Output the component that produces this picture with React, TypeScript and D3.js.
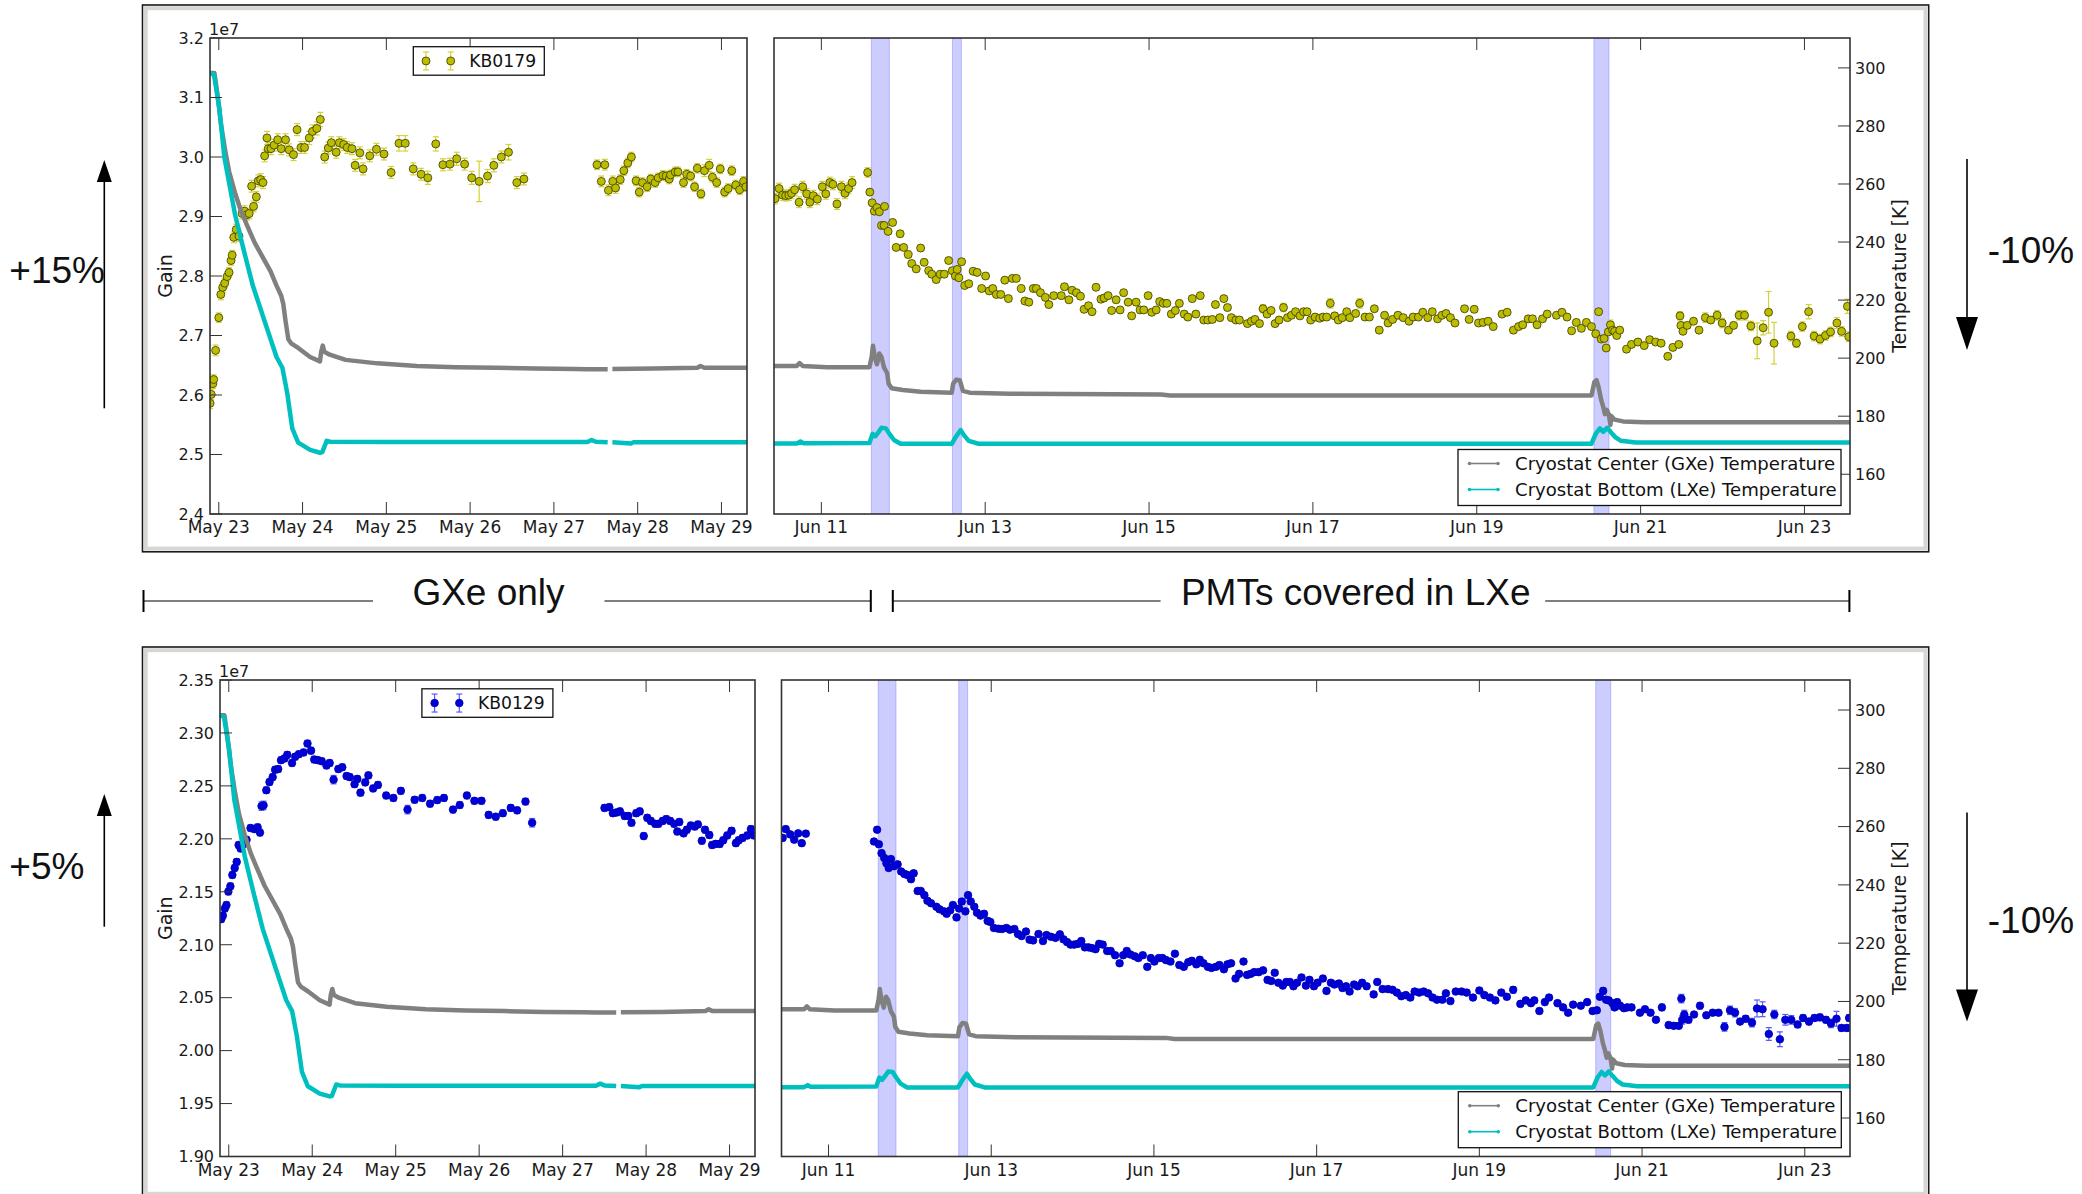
import React, { useEffect } from "react";
import * as d3 from "d3";

// ---------------- tick values ----------------
const mayTicks = [23, 24, 25, 26, 27, 28, 29];
const junTicks = [11, 13, 15, 17, 19, 21, 23];
const gainTicksTop = [2.4, 2.5, 2.6, 2.7, 2.8, 2.9, 3.0, 3.1, 3.2];
const gainTicksBottom = [1.9, 1.95, 2.0, 2.05, 2.1, 2.15, 2.2, 2.25, 2.3, 2.35];
const tempTicks = [160, 180, 200, 220, 240, 260, 280, 300];

// time windows (day of month)
const mayDomain = [22.895, 29.305];
const junDomain = [10.422, 23.556];

// shaded intervals (June)
const bands = [
  [11.61, 11.83],
  [12.6, 12.71],
  [20.43, 20.615],
];

// ---------------- KB0179 gain [day, gain/1e7, err] ----------------
const kb0179May = [
  [22.896, 2.586, 0.009], [22.91, 2.601, 0.009], [22.929, 2.619, 0.008], [22.939, 2.626, 0.008], [22.962, 2.675, 0.009],
  [23.0, 2.73, 0.008], [23.024, 2.769, 0.009], [23.047, 2.781, 0.008], [23.071, 2.788, 0.008], [23.099, 2.799, 0.008],
  [23.123, 2.806, 0.008], [23.146, 2.826, 0.008], [23.16, 2.835, 0.008], [23.179, 2.865, 0.009], [23.208, 2.878, 0.009],
  [23.241, 2.867, 0.009], [23.278, 2.905, 0.009], [23.307, 2.909, 0.009], [23.335, 2.903, 0.009], [23.363, 2.905, 0.009],
  [23.392, 2.951, 0.01], [23.415, 2.917, 0.009], [23.448, 2.933, 0.009], [23.472, 2.96, 0.01], [23.5, 2.962, 0.01],
  [23.528, 2.957, 0.01], [23.547, 3.002, 0.01], [23.575, 3.032, 0.011], [23.59, 3.014, 0.01], [23.623, 3.014, 0.01],
  [23.66, 3.02, 0.01], [23.703, 3.029, 0.01], [23.745, 3.014, 0.01], [23.797, 3.029, 0.01], [23.84, 3.012, 0.01],
  [23.892, 3.004, 0.01], [23.934, 3.046, 0.01], [23.981, 3.016, 0.01], [24.024, 3.016, 0.01], [24.08, 3.032, 0.011],
  [24.118, 3.043, 0.011], [24.17, 3.048, 0.011], [24.212, 3.063, 0.012], [24.264, 3.0, 0.01], [24.307, 3.015, 0.01],
  [24.344, 3.024, 0.01], [24.401, 3.008, 0.01], [24.439, 3.024, 0.01], [24.491, 3.021, 0.01], [24.533, 3.016, 0.01],
  [24.59, 3.014, 0.01], [24.627, 2.986, 0.01], [24.684, 3.007, 0.01], [24.722, 2.98, 0.01], [24.802, 3.002, 0.01],
  [24.882, 3.013, 0.01], [24.972, 3.005, 0.01], [25.057, 2.974, 0.01], [25.151, 3.023, 0.013], [25.226, 3.023, 0.013],
  [25.321, 2.98, 0.01], [25.415, 2.971, 0.01], [25.495, 2.965, 0.011], [25.59, 3.022, 0.012], [25.675, 2.987, 0.01],
  [25.759, 2.988, 0.01], [25.84, 2.997, 0.011], [25.934, 2.988, 0.01], [26.019, 2.965, 0.011], [26.108, 2.959, 0.034],
  [26.208, 2.968, 0.011], [26.283, 2.986, 0.011], [26.373, 3.0, 0.01], [26.458, 3.008, 0.013], [26.557, 2.957, 0.01],
  [26.642, 2.963, 0.01],
  [27.514, 2.987, 0.008], [27.566, 2.959, 0.009], [27.608, 2.987, 0.009], [27.651, 2.944, 0.009], [27.703, 2.959, 0.009],
  [27.736, 2.948, 0.009], [27.792, 2.962, 0.008], [27.835, 2.977, 0.008], [27.882, 2.99, 0.008], [27.925, 3.0, 0.008],
  [27.981, 2.96, 0.008], [28.019, 2.941, 0.008], [28.057, 2.957, 0.008], [28.113, 2.95, 0.008], [28.156, 2.963, 0.008],
  [28.208, 2.957, 0.008], [28.245, 2.965, 0.008], [28.302, 2.969, 0.008], [28.34, 2.968, 0.008], [28.377, 2.963, 0.008],
  [28.392, 2.97, 0.008], [28.448, 2.975, 0.008], [28.481, 2.975, 0.008], [28.547, 2.957, 0.008], [28.585, 2.971, 0.008],
  [28.632, 2.968, 0.008], [28.679, 2.95, 0.008], [28.712, 2.981, 0.008], [28.755, 2.938, 0.008], [28.797, 2.977, 0.01],
  [28.854, 2.986, 0.01], [28.892, 2.966, 0.008], [28.943, 2.957, 0.008], [28.986, 2.98, 0.008], [29.038, 2.941, 0.008],
  [29.08, 2.947, 0.008], [29.123, 2.977, 0.008], [29.17, 2.953, 0.008], [29.217, 2.945, 0.008], [29.264, 2.959, 0.008],
  [29.292, 2.95, 0.008],
];

const kb0179JunErr = 0.005;
const kb0179Jun = [
  [10.435, 2.93, 0.009], [10.484, 2.947, 0.009], [10.527, 2.936, 0.009], [10.565, 2.935, 0.009], [10.603, 2.936, 0.009],
  [10.636, 2.939, 0.009], [10.674, 2.945, 0.009], [10.728, 2.924, 0.009], [10.772, 2.95, 0.009], [10.821, 2.938, 0.009],
  [10.859, 2.924, 0.009], [10.902, 2.935, 0.009], [10.951, 2.929, 0.009], [11.011, 2.95, 0.009], [11.054, 2.938, 0.009],
  [11.103, 2.957, 0.009], [11.141, 2.954, 0.009], [11.19, 2.921, 0.009], [11.245, 2.95, 0.009], [11.288, 2.939, 0.009],
  [11.332, 2.947, 0.009], [11.375, 2.957, 0.01], [11.565, 2.974, 0.008], [11.592, 2.941], [11.62, 2.923],
  [11.647, 2.909], [11.679, 2.915], [11.707, 2.908], [11.734, 2.885], [11.766, 2.885], [11.772, 2.917],
  [11.815, 2.875], [11.87, 2.89], [11.913, 2.848], [11.962, 2.871], [12.005, 2.848], [12.06, 2.836],
  [12.103, 2.821], [12.158, 2.812], [12.212, 2.847], [12.255, 2.823], [12.31, 2.809], [12.348, 2.803],
  [12.402, 2.794], [12.451, 2.803], [12.5, 2.803], [12.554, 2.826], [12.598, 2.809], [12.636, 2.8],
  [12.658, 2.811], [12.679, 2.797], [12.712, 2.824], [12.75, 2.784], [12.799, 2.787], [12.853, 2.808],
  [12.902, 2.806], [12.957, 2.779], [13.005, 2.8], [13.049, 2.775], [13.092, 2.779], [13.136, 2.769],
  [13.19, 2.769], [13.239, 2.793], [13.283, 2.762], [13.332, 2.796], [13.38, 2.796], [13.44, 2.779],
  [13.484, 2.758], [13.533, 2.756], [13.587, 2.779], [13.625, 2.779], [13.674, 2.772], [13.734, 2.764],
  [13.777, 2.752], [13.837, 2.767], [13.929, 2.767], [13.967, 2.782], [14.022, 2.76], [14.06, 2.776],
  [14.114, 2.772], [14.163, 2.766], [14.207, 2.744], [14.261, 2.75], [14.304, 2.74], [14.353, 2.781],
  [14.413, 2.761], [14.451, 2.763], [14.5, 2.767], [14.543, 2.742], [14.598, 2.76], [14.647, 2.743],
  [14.69, 2.772], [14.745, 2.756], [14.788, 2.733], [14.842, 2.756], [14.891, 2.743], [14.935, 2.743],
  [14.989, 2.767], [15.033, 2.739], [15.087, 2.743], [15.13, 2.757], [15.174, 2.754], [15.217, 2.754],
  [15.272, 2.736], [15.321, 2.742], [15.37, 2.754], [15.429, 2.736], [15.473, 2.731], [15.527, 2.762],
  [15.571, 2.736], [15.625, 2.767], [15.668, 2.726], [15.717, 2.726], [15.772, 2.727], [15.81, 2.752],
  [15.864, 2.73], [15.913, 2.762], [15.957, 2.747], [16.005, 2.73], [16.06, 2.726], [16.103, 2.726],
  [16.201, 2.72], [16.25, 2.724], [16.293, 2.727], [16.348, 2.72], [16.391, 2.745, 0.007], [16.44, 2.736],
  [16.489, 2.742], [16.538, 2.72], [16.587, 2.726], [16.641, 2.747, 0.007], [16.69, 2.73], [16.739, 2.734],
  [16.788, 2.74], [16.842, 2.733], [16.886, 2.74], [16.929, 2.74], [16.973, 2.726], [17.027, 2.731],
  [17.082, 2.729], [17.125, 2.731], [17.168, 2.731], [17.212, 2.754, 0.008], [17.266, 2.733], [17.31, 2.726],
  [17.359, 2.73], [17.413, 2.74], [17.451, 2.73], [17.522, 2.737], [17.571, 2.754, 0.008], [17.636, 2.731],
  [17.69, 2.731], [17.75, 2.745], [17.81, 2.709], [17.875, 2.734], [17.918, 2.721], [17.973, 2.727],
  [18.038, 2.734], [18.103, 2.73], [18.174, 2.724], [18.223, 2.731], [18.288, 2.731], [18.342, 2.739],
  [18.402, 2.73], [18.457, 2.74], [18.522, 2.728], [18.576, 2.734], [18.625, 2.737], [18.679, 2.73],
  [18.734, 2.721], [18.851, 2.745], [18.907, 2.727], [18.969, 2.744], [19.021, 2.721], [19.077, 2.722],
  [19.139, 2.724], [19.201, 2.715], [19.309, 2.736], [19.371, 2.739], [19.448, 2.709], [19.51, 2.715],
  [19.561, 2.718], [19.628, 2.728], [19.68, 2.728], [19.736, 2.718], [19.803, 2.728], [19.86, 2.736],
  [19.973, 2.734], [20.04, 2.739], [20.102, 2.731], [20.158, 2.708], [20.215, 2.722], [20.277, 2.712],
  [20.338, 2.722], [20.4, 2.715], [20.452, 2.703], [20.488, 2.74], [20.519, 2.694], [20.555, 2.695],
  [20.58, 2.679], [20.606, 2.706], [20.632, 2.718, 0.008], [20.658, 2.709], [20.683, 2.707], [20.709, 2.7],
  [20.745, 2.709], [20.828, 2.677], [20.889, 2.685], [20.967, 2.689], [21.044, 2.683], [21.111, 2.693],
  [21.183, 2.689], [21.25, 2.687], [21.332, 2.665], [21.394, 2.68], [21.466, 2.685], [21.481, 2.733, 0.007],
  [21.492, 2.717], [21.517, 2.707], [21.569, 2.717], [21.646, 2.724], [21.713, 2.709], [21.79, 2.73, 0.008],
  [21.857, 2.726], [21.934, 2.734, 0.008], [21.996, 2.721, 0.008], [22.073, 2.709], [22.135, 2.717],
  [22.202, 2.734, 0.008], [22.269, 2.734, 0.008], [22.346, 2.716, 0.008], [22.423, 2.691, 0.03], [22.496, 2.713, 0.012],
  [22.562, 2.739, 0.035], [22.629, 2.687, 0.035], [22.835, 2.699, 0.008], [22.902, 2.687, 0.007], [22.974, 2.715, 0.008],
  [23.051, 2.74, 0.012], [23.118, 2.699, 0.008], [23.19, 2.694, 0.008], [23.257, 2.7, 0.008], [23.319, 2.706, 0.008],
  [23.396, 2.721, 0.009], [23.453, 2.707, 0.008], [23.525, 2.749, 0.012], [23.541, 2.698, 0.008],
];

// ---------------- KB0129 gain [day, gain/1e7, err] ----------------
const kb0129MayErr = 0.003;
const kb0129May = [
  [22.91, 2.1242], [22.929, 2.1275], [22.953, 2.1342], [22.972, 2.1375], [22.995, 2.1502],
  [23.019, 2.1552], [23.043, 2.1659], [23.071, 2.1725], [23.095, 2.1782], [23.118, 2.1942],
  [23.142, 2.1909], [23.175, 2.1949], [23.213, 2.1992], [23.261, 2.2102], [23.308, 2.2092],
  [23.346, 2.2109], [23.374, 2.2059], [23.393, 2.2309, 0.004], [23.417, 2.2316, 0.004], [23.45, 2.2459],
  [23.488, 2.2536], [23.526, 2.2583], [23.555, 2.2653], [23.592, 2.2659], [23.626, 2.2743],
  [23.668, 2.2759], [23.701, 2.2793], [23.758, 2.2716], [23.796, 2.2776], [23.839, 2.2799],
  [23.896, 2.2816], [23.943, 2.29], [23.986, 2.2833], [24.024, 2.2749], [24.066, 2.2743],
  [24.114, 2.2733], [24.171, 2.2693], [24.209, 2.2716], [24.256, 2.2559, 0.004], [24.313, 2.2659],
  [24.36, 2.2676], [24.412, 2.2593], [24.45, 2.2583], [24.507, 2.2516], [24.54, 2.2566],
  [24.578, 2.2436], [24.635, 2.2533], [24.673, 2.2599], [24.73, 2.2476], [24.787, 2.2509],
  [24.886, 2.2409], [24.972, 2.2386], [25.062, 2.2453], [25.142, 2.2276, 0.004], [25.227, 2.2369],
  [25.318, 2.2386], [25.412, 2.2332], [25.498, 2.2366], [25.578, 2.2386], [25.687, 2.2276],
  [25.768, 2.2319], [25.853, 2.2409], [25.943, 2.2359], [26.028, 2.2359], [26.114, 2.2226],
  [26.199, 2.2209], [26.284, 2.2242], [26.379, 2.2292], [26.455, 2.2269], [26.555, 2.2352],
  [26.635, 2.2152, 0.004],
  [27.502, 2.2292], [27.559, 2.2299], [27.602, 2.2242], [27.645, 2.2249], [27.687, 2.2259],
  [27.744, 2.2216], [27.787, 2.2216], [27.825, 2.2152], [27.882, 2.2242], [27.924, 2.2259],
  [27.972, 2.2026], [28.014, 2.2199], [28.057, 2.2169], [28.109, 2.2142], [28.147, 2.2142],
  [28.199, 2.2169], [28.242, 2.2186], [28.289, 2.2169], [28.336, 2.2142], [28.374, 2.2069],
  [28.398, 2.2159], [28.45, 2.2052], [28.488, 2.2086], [28.536, 2.2126], [28.583, 2.2116],
  [28.621, 2.2136], [28.668, 2.1982], [28.706, 2.2086], [28.758, 2.2036], [28.791, 2.1942],
  [28.834, 2.1952], [28.882, 2.1952], [28.924, 2.1986], [28.972, 2.2032], [29.024, 2.2076],
  [29.076, 2.1959], [29.109, 2.1986], [29.156, 2.2009], [29.213, 2.2032], [29.256, 2.2092],
  [29.294, 2.2032],
];

const kb0129JunErr = 0.0025;
const kb0129Jun = [
  [10.436, 2.2009], [10.474, 2.2092], [10.529, 2.2042], [10.578, 2.1992], [10.627, 2.2052], [10.671, 2.1959], [10.721, 2.2049],
  [11.559, 2.1975], [11.597, 2.2086], [11.619, 2.1949], [11.652, 2.1865], [11.685, 2.1819], [11.712, 2.1769], [11.74, 2.1725],
  [11.767, 2.1809], [11.805, 2.1742], [11.849, 2.1759], [11.893, 2.1692], [11.932, 2.1669], [11.97, 2.1659], [12.014, 2.1619],
  [12.047, 2.1675], [12.096, 2.1508], [12.134, 2.1508], [12.178, 2.1468], [12.216, 2.1415], [12.26, 2.1392], [12.326, 2.1358],
  [12.364, 2.1335], [12.419, 2.1315], [12.452, 2.1292], [12.496, 2.1325], [12.529, 2.1375], [12.573, 2.1258], [12.605, 2.1342],
  [12.638, 2.1408], [12.682, 2.1315], [12.715, 2.1468], [12.748, 2.1408], [12.792, 2.1358], [12.825, 2.1302], [12.868, 2.1275],
  [12.912, 2.1292], [12.956, 2.1225], [12.989, 2.1215], [13.033, 2.1158], [13.088, 2.1151], [13.132, 2.1148], [13.186, 2.1158],
  [13.23, 2.1142], [13.285, 2.1148], [13.329, 2.1101], [13.373, 2.1082], [13.427, 2.1125], [13.471, 2.1048], [13.515, 2.1041],
  [13.581, 2.1101], [13.636, 2.1035], [13.679, 2.1091], [13.734, 2.1075], [13.789, 2.1065], [13.844, 2.1098], [13.888, 2.1051],
  [13.932, 2.1025], [13.975, 2.1001], [14.019, 2.1001], [14.063, 2.1008], [14.107, 2.1035], [14.151, 2.0975], [14.195, 2.0975],
  [14.238, 2.0968], [14.282, 2.0958], [14.326, 2.1008], [14.37, 2.1001], [14.425, 2.0941], [14.468, 2.0941], [14.523, 2.0901],
  [14.578, 2.0825], [14.622, 2.0901], [14.666, 2.0941], [14.71, 2.0908], [14.764, 2.0891], [14.808, 2.0874], [14.863, 2.0901],
  [14.918, 2.0791], [14.962, 2.0874], [15.005, 2.0841], [15.06, 2.0874], [15.104, 2.0874], [15.148, 2.0855], [15.203, 2.0841],
  [15.258, 2.0915], [15.312, 2.0808], [15.367, 2.0791], [15.422, 2.0835], [15.466, 2.0848], [15.521, 2.0815], [15.564, 2.0858],
  [15.608, 2.0825], [15.663, 2.0791], [15.707, 2.0781], [15.762, 2.0791], [15.805, 2.0808], [15.86, 2.0768], [15.904, 2.0815],
  [15.948, 2.0825], [16.003, 2.0681], [16.047, 2.0725], [16.101, 2.0841], [16.145, 2.0715], [16.189, 2.0725], [16.233, 2.0741],
  [16.288, 2.0741], [16.342, 2.0758], [16.397, 2.0668], [16.441, 2.0658], [16.485, 2.0735], [16.529, 2.0641], [16.584, 2.0614],
  [16.627, 2.0648], [16.671, 2.0648], [16.715, 2.0608], [16.759, 2.0641], [16.814, 2.0691], [16.868, 2.0614], [16.912, 2.0668],
  [16.967, 2.0608], [17.011, 2.0641], [17.077, 2.0681], [17.121, 2.0564], [17.175, 2.0641], [17.219, 2.0624], [17.274, 2.0634],
  [17.318, 2.0591], [17.362, 2.0608], [17.405, 2.0558], [17.46, 2.0624], [17.504, 2.0608], [17.559, 2.0641], [17.614, 2.0608],
  [17.701, 2.0531], [17.745, 2.0648], [17.811, 2.0581], [17.877, 2.0581], [17.932, 2.0574], [17.986, 2.0548], [18.041, 2.0514],
  [18.096, 2.0524], [18.151, 2.0501], [18.205, 2.0558], [18.26, 2.0548], [18.315, 2.0558], [18.37, 2.0541], [18.425, 2.0501],
  [18.479, 2.0481], [18.545, 2.0481], [18.589, 2.0541], [18.644, 2.0468], [18.71, 2.0558], [18.782, 2.0558], [18.844, 2.0548],
  [18.922, 2.0501], [19.0, 2.0568], [19.062, 2.0524], [19.13, 2.0501], [19.197, 2.0474], [19.27, 2.0548], [19.338, 2.0508],
  [19.416, 2.0574, 0.003], [19.504, 2.0441], [19.571, 2.0474], [19.634, 2.0448], [19.675, 2.0474], [19.738, 2.0374], [19.805, 2.0458],
  [19.857, 2.0501], [19.961, 2.0448], [20.029, 2.0408], [20.091, 2.0358], [20.153, 2.0434], [20.247, 2.0424], [20.325, 2.0458],
  [20.392, 2.0374], [20.444, 2.0381], [20.481, 2.0508], [20.522, 2.0564, 0.003], [20.558, 2.0481], [20.59, 2.0474], [20.636, 2.0448],
  [20.662, 2.0408], [20.694, 2.0458], [20.73, 2.0424], [20.777, 2.0401], [20.818, 2.0408], [20.87, 2.0408], [20.974, 2.0358],
  [21.036, 2.0391], [21.104, 2.0358], [21.171, 2.0291], [21.244, 2.0408, 0.003], [21.327, 2.0241], [21.39, 2.0234], [21.452, 2.0234],
  [21.483, 2.0491, 0.004], [21.494, 2.0291, 0.004], [21.519, 2.0341, 0.004], [21.571, 2.0291, 0.003], [21.639, 2.0341], [21.712, 2.0424, 0.003],
  [21.79, 2.0334], [21.868, 2.0358], [21.94, 2.0358], [22.013, 2.0224, 0.004], [22.081, 2.0381, 0.004], [22.143, 2.0358, 0.004],
  [22.205, 2.0274], [22.273, 2.0301, 0.003], [22.351, 2.0264, 0.004], [22.413, 2.0398, 0.008], [22.481, 2.0391, 0.007],
  [22.558, 2.0157, 0.006], [22.626, 2.0341, 0.004], [22.694, 2.0107, 0.007], [22.761, 2.0291, 0.005], [22.834, 2.0291, 0.004],
  [22.912, 2.0247, 0.003], [22.979, 2.0308, 0.003], [23.052, 2.0274, 0.003], [23.119, 2.0308, 0.003], [23.187, 2.0314, 0.003],
  [23.26, 2.0291, 0.003], [23.322, 2.0257, 0.004], [23.39, 2.0301, 0.007], [23.452, 2.0214, 0.003], [23.519, 2.0214, 0.003],
  [23.545, 2.0308, 0.003],
];

// ---------------- cryostat temperatures [day, K] (null = no data) ----------------
const centerTempMay = [
  [22.896, 298.2], [22.948, 298.2], [22.981, 291.4], [23.028, 280.3], [23.075, 271.7], [23.123, 264.3],
  [23.193, 257.0], [23.264, 250.8], [23.335, 245.9], [23.429, 239.7], [23.524, 234.8], [23.618, 229.9],
  [23.689, 225.0], [23.745, 221.5], [23.769, 218.8], [23.797, 212.7], [23.83, 206.5], [23.863, 205.1],
  [23.948, 203.5], [24.09, 200.4], [24.208, 198.9], [24.222, 202.2], [24.241, 204.3], [24.259, 202.2],
  [24.325, 201.2], [24.514, 199.4], [24.892, 198.2], [25.363, 197.3], [25.835, 196.9], [26.307, 196.7],
  [26.778, 196.4], [27.25, 196.3], [27.392, 196.2], [27.642, 196.2], [27.67, null], [27.698, 196.3],
  [28.193, 196.4], [28.712, 196.7], [28.75, 197.3], [28.797, 196.7], [29.307, 196.7],
];
const bottomTempMay = [
  [22.896, 298.2], [22.943, 297.6], [23.005, 286.5], [23.066, 269.3], [23.193, 249.6], [23.297, 237.3],
  [23.406, 225.0], [23.547, 212.7], [23.689, 200.4], [23.759, 196.7], [23.816, 188.1], [23.877, 175.8],
  [23.948, 170.9], [24.09, 168.4], [24.208, 167.4], [24.235, 167.6], [24.288, 171.5], [24.33, 171.2],
  [25.0, 171.1], [27.4, 171.1], [27.45, 171.8], [27.5, 171.2], [27.642, 171.0], [27.67, null],
  [27.698, 171.0], [27.92, 170.6], [27.95, 171.0], [29.307, 171.0],
];
const centerTempJun = [
  [10.422, 197.3], [10.7, 197.3], [10.734, 198.3], [10.772, 197.3], [11.071, 196.9], [11.587, 196.9],
  [11.614, 200.4], [11.63, 204.3], [11.652, 200.4], [11.679, 197.9], [11.707, 201.6], [11.734, 200.4],
  [11.766, 196.7], [11.804, 194.8], [11.821, 191.2], [11.859, 189.6], [11.995, 189.0], [12.212, 188.4],
  [12.592, 188.1], [12.609, 191.2], [12.647, 192.6], [12.69, 192.4], [12.728, 188.7], [12.81, 188.1],
  [13.299, 187.7], [15.147, 187.5], [15.255, 187.1], [20.4, 187.1], [20.436, 191.8], [20.462, 192.4],
  [20.488, 189.9], [20.519, 185.6], [20.544, 183.2], [20.565, 180.7], [20.586, 182.2], [20.611, 180.7],
  [20.632, 177.0], [20.642, 180.1], [20.683, 178.8], [20.786, 178.2], [21.044, 177.9], [23.556, 177.9],
];
const bottomTempJun = [
  [10.422, 170.6], [10.7, 170.6], [10.745, 171.3], [10.78, 170.7], [11.587, 170.8], [11.625, 173.9],
  [11.658, 173.1], [11.701, 174.6], [11.734, 176.0], [11.788, 175.8], [11.832, 173.9], [11.886, 171.8],
  [11.967, 170.5], [12.592, 170.5], [12.647, 173.1], [12.701, 175.2], [12.745, 173.3], [12.799, 171.5],
  [12.918, 170.5], [20.4, 170.5], [20.452, 173.9], [20.503, 175.8], [20.544, 174.6], [20.591, 176.0],
  [20.642, 174.3], [20.694, 172.7], [20.761, 171.5], [20.941, 170.9], [23.556, 170.9],
];

// ---------------- styling ----------------
const AX_FONT = "'DejaVu Sans', Verdana, sans-serif";
const NOTE_FONT = "'Liberation Sans', Arial, sans-serif";
const GREY = "#808080";
const CYAN = "#00bfbf";
const BAND = "rgba(0,0,255,0.2)";

const yellowStyle = { fill: "#bcbc00", stroke: "#3a3a00", err: "#d2d23a", r: 4 };
const blueStyle = { fill: "#0000d8", stroke: "#0000b0", err: "#5a5aff", r: 3.8 };

type Box = { x: number; y: number; w: number; h: number };

function Points({ data, x, y, st, defErr }) {
  return (
    <g>
      {data.map((d, i) => {
        const e = d.length > 2 ? d[2] : defErr;
        const cx = x(d[0]);
        return (
          <g key={"e" + i} stroke={st.err} strokeWidth={1.2}>
            <line x1={cx} x2={cx} y1={y(d[1] - e)} y2={y(d[1] + e)} />
            <line x1={cx - 3} x2={cx + 3} y1={y(d[1] - e)} y2={y(d[1] - e)} />
            <line x1={cx - 3} x2={cx + 3} y1={y(d[1] + e)} y2={y(d[1] + e)} />
          </g>
        );
      })}
      {data.map((d, i) => (
        <circle key={"p" + i} cx={x(d[0])} cy={y(d[1])} r={st.r} fill={st.fill} stroke={st.stroke} strokeWidth={0.8} />
      ))}
    </g>
  );
}

function Panel(props) {
  const {
    id, box, xDomain, xTicks, month, gainDomain, gainTicks, gainFmt, showGain,
    tempDomain, showTemp, data, st, defErr, centerT, bottomT, showBands, gainLabelX,
  } = props;
  const b: Box = box;
  const x = d3.scaleLinear().domain(xDomain).range([b.x, b.x + b.w]);
  const y = d3.scaleLinear().domain(gainDomain).range([b.y + b.h, b.y]);
  const t = d3.scaleLinear().domain(tempDomain).range([b.y + b.h, b.y]);
  const line = d3
    .line()
    .defined((d) => d[1] != null)
    .x((d) => x(d[0]))
    .y((d) => t(d[1]));
  const TL = 12;
  return (
    <g>
      <defs>
        <clipPath id={id}>
          <rect x={b.x} y={b.y} width={b.w} height={b.h} />
        </clipPath>
      </defs>
      <rect x={b.x} y={b.y} width={b.w} height={b.h} fill="#fff" />
      <g clipPath={`url(#${id})`}>
        {showBands &&
          bands.map((bd, i) => (
            <rect key={i} x={x(bd[0])} y={b.y} width={x(bd[1]) - x(bd[0])} height={b.h} fill={BAND} stroke={BAND} strokeWidth={1} />
          ))}
        <Points data={data} x={x} y={y} st={st} defErr={defErr} />
        <path d={line(centerT)} fill="none" stroke={GREY} strokeWidth={4.5} strokeLinejoin="round" />
        <path d={line(bottomT)} fill="none" stroke={CYAN} strokeWidth={4.5} strokeLinejoin="round" />
      </g>
      {/* date ticks on top and bottom spines */}
      <g stroke="#333" strokeWidth={1}>
        {xTicks.map((v) => (
          <g key={v}>
            <line x1={x(v)} x2={x(v)} y1={b.y + b.h} y2={b.y + b.h - TL} />
            <line x1={x(v)} x2={x(v)} y1={b.y} y2={b.y + TL} />
          </g>
        ))}
        {showGain &&
          gainTicks.map((v) => <line key={v} x1={b.x} x2={b.x + TL} y1={y(v)} y2={y(v)} />)}
        {showTemp &&
          tempTicks.map((v) => <line key={v} x1={b.x + b.w - TL} x2={b.x + b.w} y1={t(v)} y2={t(v)} />)}
      </g>
      <rect x={b.x} y={b.y} width={b.w} height={b.h} fill="none" stroke="#333" strokeWidth={1.6} />
      <g fontFamily={AX_FONT} fill="#1a1a1a">
        {xTicks.map((v) => (
          <text key={v} x={x(v)} y={b.y + b.h + 19} textAnchor="middle" fontSize={17}>
            {`${month} ${v}`}
          </text>
        ))}
        {showGain &&
          gainTicks.map((v) => (
            <text key={v} x={b.x - 6} y={y(v) + 5.8} textAnchor="end" fontSize={16}>
              {gainFmt(v)}
            </text>
          ))}
        {showGain && (
          <text x={b.x - 1} y={b.y - 3} fontSize={16}>
            1e7
          </text>
        )}
        {showTemp &&
          tempTicks.map((v) => (
            <text key={v} x={b.x + b.w + 5} y={t(v) + 5.8} textAnchor="start" fontSize={16}>
              {v}
            </text>
          ))}
      </g>
      {showGain && (
        <text
          fontFamily={AX_FONT}
          fontSize={19}
          fill="#1a1a1a"
          textAnchor="middle"
          transform={`translate(${gainLabelX},${b.y + b.h / 2}) rotate(-90)`}
          dy="0.35em"
        >
          Gain
        </text>
      )}
      {showTemp && (
        <text
          fontFamily={AX_FONT}
          fontSize={19}
          fill="#1a1a1a"
          textAnchor="middle"
          transform={`translate(${b.x + b.w + 49},${b.y + b.h / 2}) rotate(-90)`}
          dy="0.35em"
        >
          Temperature [K]
        </text>
      )}
    </g>
  );
}

function GainLegend({ x, y, label, st }) {
  const w = 131;
  const h = 28.5;
  const my = y + h / 2;
  return (
    <g>
      <rect x={x} y={y} width={w} height={h} fill="#fff" stroke="#111" strokeWidth={1.3} />
      {[x + 12.7, x + 37.4].map((cx) => (
        <g key={cx}>
          <g stroke={st.err} strokeWidth={1.2}>
            <line x1={cx} x2={cx} y1={my - 9} y2={my + 9} />
            <line x1={cx - 3} x2={cx + 3} y1={my - 9} y2={my - 9} />
            <line x1={cx - 3} x2={cx + 3} y1={my + 9} y2={my + 9} />
          </g>
          <circle cx={cx} cy={my} r={st.r} fill={st.fill} stroke={st.stroke} strokeWidth={0.8} />
        </g>
      ))}
      <text x={x + 56} y={my + 6} fontFamily={AX_FONT} fontSize={17.2} fill="#111">
        {label}
      </text>
    </g>
  );
}

function TempLegend({ x, y }) {
  const rows = [
    { c: GREY, label: "Cryostat Center (GXe) Temperature" },
    { c: CYAN, label: "Cryostat Bottom (LXe) Temperature" },
  ];
  return (
    <g>
      <rect x={x} y={y} width={383} height={56} fill="#fff" stroke="#111" strokeWidth={1.3} />
      {rows.map((r, i) => {
        const ry = y + 14 + i * 26;
        return (
          <g key={i}>
            <line x1={x + 11.5} x2={x + 40} y1={ry} y2={ry} stroke={r.c} strokeWidth={1.6} />
            <circle cx={x + 11.5} cy={ry} r={1.8} fill={r.c} />
            <circle cx={x + 40} cy={ry} r={1.8} fill={r.c} />
            <text x={x + 57} y={ry + 6.2} fontFamily={AX_FONT} fontSize={18.1} fill="#111">
              {r.label}
            </text>
          </g>
        );
      })}
    </g>
  );
}

function Frame({ x0, y0, x1, y1 }) {
  return (
    <g>
      <rect x={x0} y={y0} width={x1 - x0} height={y1 - y0} fill="#fff" stroke="#1a1a1a" strokeWidth={1.6} />
      <rect x={x0 + 3.2} y={y0 + 3.2} width={x1 - x0 - 6.4} height={y1 - y0 - 6.4} fill="none" stroke="#d8d6d2" strokeWidth={4} />
    </g>
  );
}

function UpArrow({ x, tip, end, hw, hh }) {
  return (
    <g>
      <line x1={x} x2={x} y1={end} y2={tip + hh - 1} stroke="#000" strokeWidth={1.6} />
      <polygon points={`${x},${tip} ${x - hw / 2},${tip + hh} ${x + hw / 2},${tip + hh}`} fill="#000" />
    </g>
  );
}
function DownArrow({ x, tip, start, hw, hh }) {
  return (
    <g>
      <line x1={x} x2={x} y1={start} y2={tip - hh + 1} stroke="#000" strokeWidth={1.6} />
      <polygon points={`${x},${tip} ${x - hw / 2},${tip - hh} ${x + hw / 2},${tip - hh}`} fill="#000" />
    </g>
  );
}

function Bracket({ x0, x1, gap0, gap1, y, label, cx }) {
  return (
    <g>
      <line x1={x0} x2={gap0} y1={y} y2={y} stroke="#555" strokeWidth={1.6} />
      <line x1={gap1} x2={x1} y1={y} y2={y} stroke="#555" strokeWidth={1.6} />
      <line x1={x0} x2={x0} y1={y - 11} y2={y + 11} stroke="#000" strokeWidth={2} />
      <line x1={x1} x2={x1} y1={y - 11} y2={y + 11} stroke="#000" strokeWidth={2} />
      <text x={cx} y={y + 4} textAnchor="middle" fontFamily={NOTE_FONT} fontSize={37} fill="#111">
        {label}
      </text>
    </g>
  );
}

export default function App() {
  useEffect(() => {
    document.body.style.margin = "0";
    document.body.style.overflow = "hidden";
  }, []);
  const fmt1 = (v) => v.toFixed(1);
  const fmt2 = (v) => v.toFixed(2);
  return (
    <svg width={2082} height={1194} style={{ position: "absolute", left: 0, top: 0, background: "#fff" }}>
      <rect width={2082} height={1194} fill="#fff" />
      <Frame x0={142.5} y0={5} x1={1928.7} y1={551.8} />
      <Frame x0={142.5} y0={647} x1={1928.7} y1={1197} />

      {/* KB0179 */}
      <Panel
        id="c1" box={{ x: 210, y: 38, w: 537, h: 476 }} xDomain={mayDomain} xTicks={mayTicks} month="May"
        gainDomain={[2.4, 3.2]} gainTicks={gainTicksTop} gainFmt={fmt1} showGain gainLabelX={165}
        tempDomain={[146.3, 310.3]} showTemp={false} data={kb0179May} st={yellowStyle} defErr={0.009}
        centerT={centerTempMay} bottomT={bottomTempMay} showBands={false}
      />
      <Panel
        id="c2" box={{ x: 774, y: 38, w: 1076, h: 476 }} xDomain={junDomain} xTicks={junTicks} month="Jun"
        gainDomain={[2.4, 3.2]} gainTicks={gainTicksTop} gainFmt={fmt1} showGain={false}
        tempDomain={[146.3, 310.3]} showTemp data={kb0179Jun} st={yellowStyle} defErr={kb0179JunErr}
        centerT={centerTempJun} bottomT={bottomTempJun} showBands
      />
      <GainLegend x={413.3} y={46.7} label="KB0179" st={yellowStyle} />
      <TempLegend x={1458} y={449.5} />

      {/* KB0129 */}
      <Panel
        id="c3" box={{ x: 220, y: 680, w: 535, h: 476.5 }} xDomain={mayDomain} xTicks={mayTicks} month="May"
        gainDomain={[1.9, 2.35]} gainTicks={gainTicksBottom} gainFmt={fmt2} showGain gainLabelX={165.7}
        tempDomain={[146.8, 310.3]} showTemp={false} data={kb0129May} st={blueStyle} defErr={kb0129MayErr}
        centerT={centerTempMay} bottomT={bottomTempMay} showBands={false}
      />
      <Panel
        id="c4" box={{ x: 781.5, y: 680, w: 1068.5, h: 476.5 }} xDomain={junDomain} xTicks={junTicks} month="Jun"
        gainDomain={[1.9, 2.35]} gainTicks={gainTicksBottom} gainFmt={fmt2} showGain={false}
        tempDomain={[146.8, 310.3]} showTemp data={kb0129Jun} st={blueStyle} defErr={kb0129JunErr}
        centerT={centerTempJun} bottomT={bottomTempJun} showBands
      />
      <GainLegend x={421.9} y={688.8} label="KB0129" st={blueStyle} />
      <TempLegend x={1458.3} y={1091.7} />

      {/* phase brackets */}
      <Bracket x0={143.5} x1={870.8} gap0={373} gap1={604.5} y={601} label="GXe only" cx={488.5} />
      <Bracket x0={892.8} x1={1849.4} gap0={1160.6} gap1={1545.2} y={601} label="PMTs covered in LXe" cx={1355.7} />

      {/* gain change annotations */}
      <g fontFamily={NOTE_FONT} fontSize={37} fill="#111">
        <text x={9.3} y={283.3}>+15%</text>
        <text x={9.3} y={879.3}>+5%</text>
        <text x={1987.8} y={262.5}>-10%</text>
        <text x={1987.8} y={933.3}>-10%</text>
      </g>
      <UpArrow x={104.3} tip={160} end={408.3} hw={15} hh={22} />
      <UpArrow x={104.3} tip={794} end={926.7} hw={15} hh={22} />
      <DownArrow x={1967} tip={350} start={159} hw={22} hh={33} />
      <DownArrow x={1967} tip={1021.6} start={812.4} hw={22} hh={32} />
    </svg>
  );
}
